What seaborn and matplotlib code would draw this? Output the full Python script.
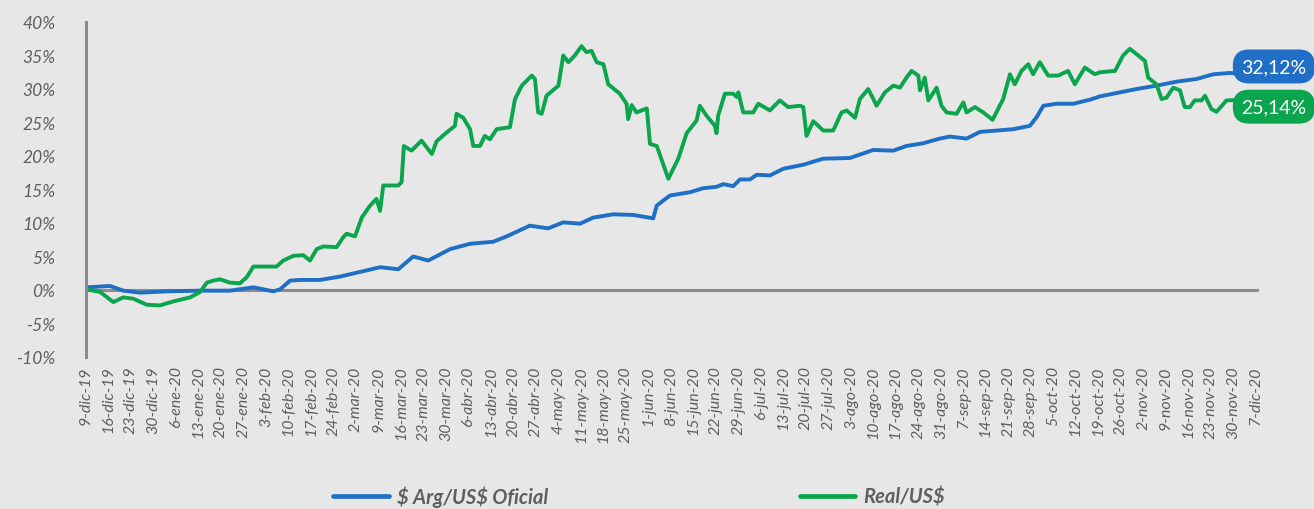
import pandas as pd
import numpy as np
import matplotlib
matplotlib.use("Agg")
import matplotlib.pyplot as plt
from matplotlib.lines import Line2D
import seaborn as sns

start = pd.Timestamp("2019-12-09")

# days since 9-dic-19 and % change
arg_days = [0.2, 7.5, 11.6, 16.8, 25.1, 35.5, 44.8, 52.1, 58.3, 60.4, 63.5, 66.6,
            72.8, 79.0, 85.3, 91.5, 97.2, 101.8, 106.5, 113.3, 119.5, 126.7, 130.9,
            138.1, 143.8, 148.5, 153.7, 157.8, 164.1, 170.3, 176.5, 177.6, 181.7,
            188.0, 192.1, 196.2, 198.3, 201.4, 203.5, 206.6, 208.7, 212.8, 217.0,
            223.2, 229.4, 237.7, 245.0, 251.2, 255.3, 260.5, 265.7, 268.8, 274.0,
            278.2, 283.4, 288.5, 293.7, 295.8, 297.9, 302.0, 307.2, 312.4, 315.5,
            321.7, 326.9, 333.1, 339.4, 345.6, 350.8, 356.0, 361.0]
arg_pct = [0.4, 0.6, -0.1, -0.4, -0.2, -0.1, -0.1, 0.4, -0.2, 0.1, 1.4, 1.5,
           1.5, 2.0, 2.7, 3.4, 3.1, 5.0, 4.4, 6.1, 6.9, 7.2, 8.0,
           9.6, 9.2, 10.1, 9.9, 10.8, 11.3, 11.2, 10.7, 12.6, 14.1,
           14.6, 15.2, 15.4, 15.8, 15.5, 16.5, 16.5, 17.2, 17.1, 18.1,
           18.7, 19.6, 19.7, 20.9, 20.8, 21.5, 21.9, 22.6, 22.9, 22.6,
           23.6, 23.8, 24.0, 24.5, 25.8, 27.5, 27.8, 27.8, 28.4, 28.9,
           29.5, 30.0, 30.5, 31.1, 31.5, 32.2, 32.4, 32.12]

real_days = [0.2, 4.4, 8.5, 11.6, 14.7, 18.9, 23.0, 27.2, 32.4, 35.5, 37.6, 39.6,
             41.7, 44.8, 47.9, 50.0, 52.1, 54.7, 59.3, 61.4, 64.5, 67.6, 69.7, 71.8,
             73.8, 78.0, 80.1, 81.1, 83.7, 85.8, 88.4, 90.4, 91.5, 92.5, 97.2, 98.2,
             98.9, 101.3, 104.4, 107.6, 109.1, 112.2, 114.8, 115.3, 117.4, 119.5,
             120.5, 122.6, 124.1, 125.7, 127.8, 131.9, 133.5, 135.6, 138.7, 139.7,
             140.7, 141.8, 143.3, 147.0, 148.5, 150.1, 152.1, 154.2, 155.7, 157.3,
             158.9, 161.0, 162.5, 166.1, 168.2, 168.7, 169.8, 171.3, 174.5, 175.5,
             177.6, 181.2, 184.3, 186.9, 190.0, 191.0, 193.1, 195.7, 196.2, 196.7,
             198.8, 201.4, 202.5, 203.0, 204.5, 207.6, 209.2, 212.8, 215.9, 218.5,
             222.2, 223.2, 224.2, 226.3, 229.4, 232.5, 235.1, 236.7, 239.3, 240.8,
             243.4, 245.0, 246.0, 248.6, 251.2, 253.3, 255.3, 256.9, 259.0, 259.5,
             261.0, 262.1, 264.7, 266.2, 267.8, 270.9, 273.0, 274.0, 276.6, 279.2,
             282.1, 285.4, 287.5, 289.0, 291.1, 293.2, 294.7, 296.8, 299.4, 302.5,
             305.6, 307.7, 310.8, 313.9, 315.5, 320.2, 322.7, 324.8, 327.4, 329.5,
             330.5, 333.1, 334.7, 336.2, 338.3, 340.4, 341.9, 343.5, 345.0, 347.1,
             348.2, 350.2, 351.8, 354.9, 361.0]
real_pct = [0.1, -0.3, -1.8, -1.1, -1.3, -2.2, -2.3, -1.7, -1.1, -0.3, 1.1, 1.4,
            1.6, 1.1, 1.0, 1.9, 3.5, 3.5, 3.5, 4.4, 5.1, 5.2, 4.4, 6.1,
            6.5, 6.4, 7.9, 8.4, 8.0, 10.8, 12.6, 13.6, 11.8, 15.6, 15.6, 16.1,
            21.5, 20.8, 22.3, 20.3, 22.2, 23.5, 24.5, 26.3, 25.7, 24.0,
            21.5, 21.5, 23.0, 22.5, 24.0, 24.3, 28.5, 30.5, 32.0, 31.5,
            26.5, 26.3, 29.0, 30.5, 35.0, 34.0, 35.0, 36.4, 35.5, 35.7,
            34.0, 33.7, 30.7, 29.3, 27.8, 25.5, 27.6, 26.5, 27.1, 21.8,
            21.5, 16.6, 19.6, 23.4, 25.3, 27.5, 26.0, 24.5, 23.4, 26.0,
            29.3, 29.3, 28.8, 29.5, 26.5, 26.5, 27.8, 26.8, 28.3, 27.3,
            27.5, 27.3, 23.0, 25.2, 23.8, 23.8, 26.5, 26.8, 25.7, 28.5,
            30.0, 28.5, 27.5, 29.5, 30.5, 30.2, 31.7, 32.7, 32.0, 29.8,
            31.7, 28.3, 30.2, 27.5, 26.5, 26.3, 28.0, 26.5, 27.3, 26.5,
            25.4, 28.5, 32.2, 30.7, 32.7, 33.7, 32.2, 34.0, 32.0, 32.0,
            32.7, 30.7, 33.2, 32.2, 32.5, 32.7, 35.0, 36.0, 35.0, 34.2,
            31.7, 30.7, 28.5, 28.7, 30.2, 29.8, 27.3, 27.3, 28.3, 28.3,
            29.0, 27.0, 26.6, 28.3, 28.4]

series_names = ["$ Arg/US$ Oficial", "Real/US$"]
series_colors = ["#1F6FC6", "#0AA54C"]
end_labels = ["32,12%", "25,14%"]
meses = ["ene", "feb", "mar", "abr", "may", "jun",
         "jul", "ago", "sep", "oct", "nov", "dic"]

df = pd.concat([
    pd.DataFrame({"fecha": start + pd.to_timedelta(arg_days, unit="D"),
                  "pct": arg_pct, "serie": series_names[0]}),
    pd.DataFrame({"fecha": start + pd.to_timedelta(real_days, unit="D"),
                  "pct": real_pct, "serie": series_names[1]}),
])

sns.set_theme(style="white")
bg = "#E7E7E7"
plt.rcParams["font.family"] = ["Lato", "DejaVu Sans"]
plt.rcParams["font.style"] = "italic"

fig = plt.figure(figsize=(13.14, 5.10), dpi=100, facecolor=bg)
ax = fig.add_axes([86 / 1314, 1 - 358 / 510, (1259 - 86) / 1314, (358 - 23) / 510])
ax.set_facecolor(bg)

sns.lineplot(data=df, x="fecha", y="pct", hue="serie", palette=series_colors,
             hue_order=series_names, linewidth=2.8, legend=False, ax=ax,
             estimator=None)

ax.set_xlim(start, start + pd.Timedelta(days=365))
ax.set_ylim(-10, 40)
ax.axhline(0, color="#8C8C8C", linewidth=2.2, zorder=1)

ax.set_yticks(np.arange(-10, 41, 5))
ax.set_yticklabels([f"{v}%" for v in range(-10, 41, 5)])
ticks = pd.date_range("2019-12-09", "2020-12-07", freq="7D")
ax.set_xticks(ticks)
ax.set_xticklabels([f"{d.day}-{meses[d.month - 1]}-{d.strftime('%y')}" for d in ticks],
                   rotation=90)
ax.tick_params(axis="y", length=0, pad=22, labelsize=12.5, labelcolor="#5F5F5F")
ax.tick_params(axis="x", length=0, pad=6, labelsize=11.5, labelcolor="#5F5F5F")
ax.set_xlabel("")
ax.set_ylabel("")

for side in ["top", "right", "bottom"]:
    ax.spines[side].set_visible(False)
ax.spines["left"].set_color("#8C8C8C")
ax.spines["left"].set_linewidth(2.2)

# end-of-series tags
last_vals = [arg_pct[-1], real_pct[-1]]
offsets = [6, -5]
for val, lab, col, off in zip(last_vals, end_labels, series_colors, offsets):
    ax.annotate(lab, xy=(start + pd.Timedelta(days=359.5), val), xycoords="data",
                xytext=(0, off), textcoords="offset points",
                ha="left", va="center", color="white", fontsize=14,
                fontstyle="normal", annotation_clip=False, zorder=5,
                bbox=dict(boxstyle="round,pad=0.4,rounding_size=0.8",
                          fc=col, ec=col))

handles = [Line2D([0], [0], color=c, linewidth=3.4) for c in series_colors]
leg = fig.legend(handles, [n.replace("$", r"\$") for n in series_names],
                 loc="center", bbox_to_anchor=(0.4863, 0.025), ncol=2,
                 frameon=False, fontsize=14.5, handlelength=2.75,
                 columnspacing=12.5, handletextpad=0.4)
for t in leg.get_texts():
    t.set_color("#5F5F5F")
    t.set_fontweight("bold")

fig.savefig("out.png", dpi=100, facecolor=bg)
